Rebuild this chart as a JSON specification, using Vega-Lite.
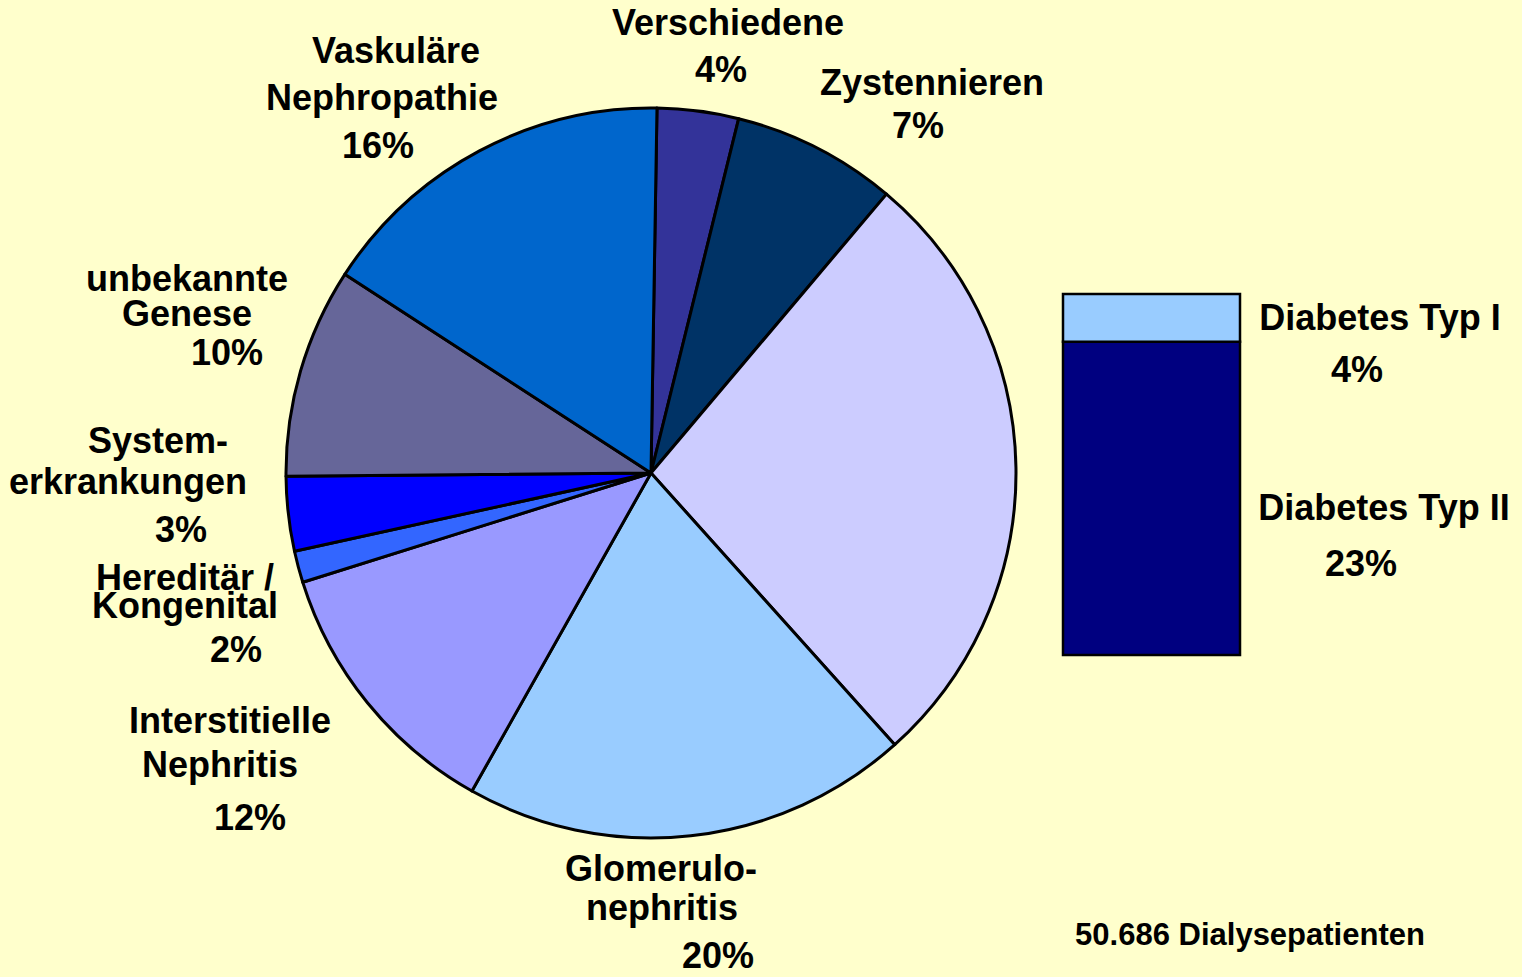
{
  "$schema": "https://vega.github.io/schema/vega-lite/v6.json",
  "width": 1522,
  "height": 977,
  "autosize": {"type": "none"},
  "padding": 0,
  "background": "#FFFFCC",
  "config": {"view": {"stroke": null}, "text": {"font": "Liberation Sans", "fontWeight": "bold", "fill": "#000000"}},
  "datasets": {
    "slices": [
      {"name": "Verschiedene", "pct": 3.6, "ord": 1},
      {"name": "Zystennieren", "pct": 7.3, "ord": 2},
      {"name": "Diabetes", "pct": 27.2, "ord": 3},
      {"name": "Glomerulonephritis", "pct": 19.8, "ord": 4},
      {"name": "Interstitielle Nephritis", "pct": 12.0, "ord": 5},
      {"name": "Hereditär / Kongenital", "pct": 1.4, "ord": 6},
      {"name": "Systemerkrankungen", "pct": 3.3, "ord": 7},
      {"name": "unbekannte Genese", "pct": 9.3, "ord": 8},
      {"name": "Vaskuläre Nephropathie", "pct": 16.1, "ord": 9}
    ],
    "diabetes": [
      {"name": "Diabetes Typ II", "pct": 23.6, "ord": 1},
      {"name": "Diabetes Typ I", "pct": 3.6, "ord": 2}
    ],
    "labels": [
      {"text": "Verschiedene", "lx": 728, "ly": 35},
      {"text": "4%", "lx": 721, "ly": 82},
      {"text": "Zystennieren", "lx": 932, "ly": 95},
      {"text": "7%", "lx": 918, "ly": 138},
      {"text": "Vaskuläre", "lx": 396, "ly": 63},
      {"text": "Nephropathie", "lx": 382, "ly": 110},
      {"text": "16%", "lx": 378, "ly": 158},
      {"text": "unbekannte", "lx": 187, "ly": 291},
      {"text": "Genese", "lx": 187, "ly": 326},
      {"text": "10%", "lx": 227, "ly": 365},
      {"text": "System-", "lx": 158, "ly": 453},
      {"text": "erkrankungen", "lx": 128, "ly": 494},
      {"text": "3%", "lx": 181, "ly": 542},
      {"text": "Hereditär /", "lx": 185, "ly": 590},
      {"text": "Kongenital", "lx": 185, "ly": 618},
      {"text": "2%", "lx": 236, "ly": 662},
      {"text": "Interstitielle", "lx": 230, "ly": 733},
      {"text": "Nephritis", "lx": 220, "ly": 777},
      {"text": "12%", "lx": 250, "ly": 830},
      {"text": "Glomerulo-", "lx": 661, "ly": 881},
      {"text": "nephritis", "lx": 662, "ly": 920},
      {"text": "20%", "lx": 718, "ly": 968},
      {"text": "Diabetes Typ I", "lx": 1380, "ly": 330},
      {"text": "4%", "lx": 1357, "ly": 382},
      {"text": "Diabetes Typ II", "lx": 1384, "ly": 520},
      {"text": "23%", "lx": 1361, "ly": 576}
    ],
    "note": [
      {"text": "50.686 Dialysepatienten", "lx": 1250, "ly": 945}
    ]
  },
  "layer": [
    {
      "mark": {"type": "rule", "stroke": "#000000", "strokeWidth": 1},
      "encoding": {
        "x": {"datum": 887, "type": "quantitative", "scale": {"domain": [0, 1522], "nice": false, "zero": false}, "axis": null},
        "y": {"datum": 195, "type": "quantitative", "scale": {"domain": [0, 977], "nice": false, "zero": false, "reverse": true}, "axis": null},
        "x2": {"datum": 1132},
        "y2": {"datum": 294}
      }
    },
    {
      "mark": {"type": "rule", "stroke": "#000000", "strokeWidth": 1},
      "encoding": {
        "x": {"datum": 891, "type": "quantitative", "scale": {"domain": [0, 1522], "nice": false, "zero": false}, "axis": null},
        "y": {"datum": 743, "type": "quantitative", "scale": {"domain": [0, 977], "nice": false, "zero": false, "reverse": true}, "axis": null},
        "x2": {"datum": 1133},
        "y2": {"datum": 655}
      }
    },
    {
      "data": {"name": "slices"},
      "mark": {"type": "arc", "radius": 365, "stroke": "#000000", "strokeWidth": 3, "strokeJoin": "round"},
      "encoding": {
        "theta": {"field": "pct", "type": "quantitative", "stack": true, "scale": {"range": [0.0164, 6.2996]}},
        "order": {"field": "ord", "type": "quantitative"},
        "color": {
          "field": "name", "type": "nominal", "legend": null,
          "scale": {
            "domain": ["Verschiedene", "Zystennieren", "Diabetes", "Glomerulonephritis", "Interstitielle Nephritis", "Hereditär / Kongenital", "Systemerkrankungen", "unbekannte Genese", "Vaskuläre Nephropathie", "Diabetes Typ I", "Diabetes Typ II"],
            "range": ["#333399", "#003366", "#CCCCFF", "#99CCFF", "#9999FF", "#3366FF", "#0000FF", "#666699", "#0066CC", "#99CCFF", "#000080"]
          }
        },
        "x": {"datum": 651, "type": "quantitative", "scale": {"domain": [0, 1522], "nice": false, "zero": false}, "axis": null},
        "y": {"datum": 473, "type": "quantitative", "scale": {"domain": [0, 977], "nice": false, "zero": false, "reverse": true}, "axis": null}
      }
    },
    {
      "data": {"name": "diabetes"},
      "transform": [
        {"stack": "pct", "groupby": [], "sort": [{"field": "ord", "order": "ascending"}], "as": ["v0", "v1"]}
      ],
      "mark": {"type": "rect", "stroke": "#000000", "strokeWidth": 2.5},
      "encoding": {
        "x": {"datum": 1063, "type": "quantitative", "scale": {"domain": [0, 1522], "nice": false, "zero": false}, "axis": null},
        "x2": {"datum": 1240},
        "y": {"field": "v0", "type": "quantitative", "scale": {"domain": [0, 27.2], "range": [655, 294], "nice": false, "zero": false}, "axis": null},
        "y2": {"field": "v1"},
        "color": {
          "field": "name", "type": "nominal", "legend": null,
          "scale": {
            "domain": ["Verschiedene", "Zystennieren", "Diabetes", "Glomerulonephritis", "Interstitielle Nephritis", "Hereditär / Kongenital", "Systemerkrankungen", "unbekannte Genese", "Vaskuläre Nephropathie", "Diabetes Typ I", "Diabetes Typ II"],
            "range": ["#333399", "#003366", "#CCCCFF", "#99CCFF", "#9999FF", "#3366FF", "#0000FF", "#666699", "#0066CC", "#99CCFF", "#000080"]
          }
        }
      }
    },
    {
      "data": {"name": "labels"},
      "mark": {"type": "text", "fontSize": 36, "fontWeight": "bold", "font": "Liberation Sans", "align": "center", "baseline": "alphabetic", "color": "#000000"},
      "encoding": {
        "x": {"field": "lx", "type": "quantitative", "scale": {"domain": [0, 1522], "nice": false, "zero": false}, "axis": null},
        "y": {"field": "ly", "type": "quantitative", "scale": {"domain": [0, 977], "nice": false, "zero": false, "reverse": true}, "axis": null},
        "text": {"field": "text", "type": "nominal"}
      }
    },
    {
      "data": {"name": "note"},
      "mark": {"type": "text", "fontSize": 31, "fontWeight": "bold", "font": "Liberation Sans", "align": "center", "baseline": "alphabetic", "color": "#000000"},
      "encoding": {
        "x": {"field": "lx", "type": "quantitative", "scale": {"domain": [0, 1522], "nice": false, "zero": false}, "axis": null},
        "y": {"field": "ly", "type": "quantitative", "scale": {"domain": [0, 977], "nice": false, "zero": false, "reverse": true}, "axis": null},
        "text": {"field": "text", "type": "nominal"}
      }
    }
  ],
  "resolve": {"scale": {"y": "independent"}}
}
